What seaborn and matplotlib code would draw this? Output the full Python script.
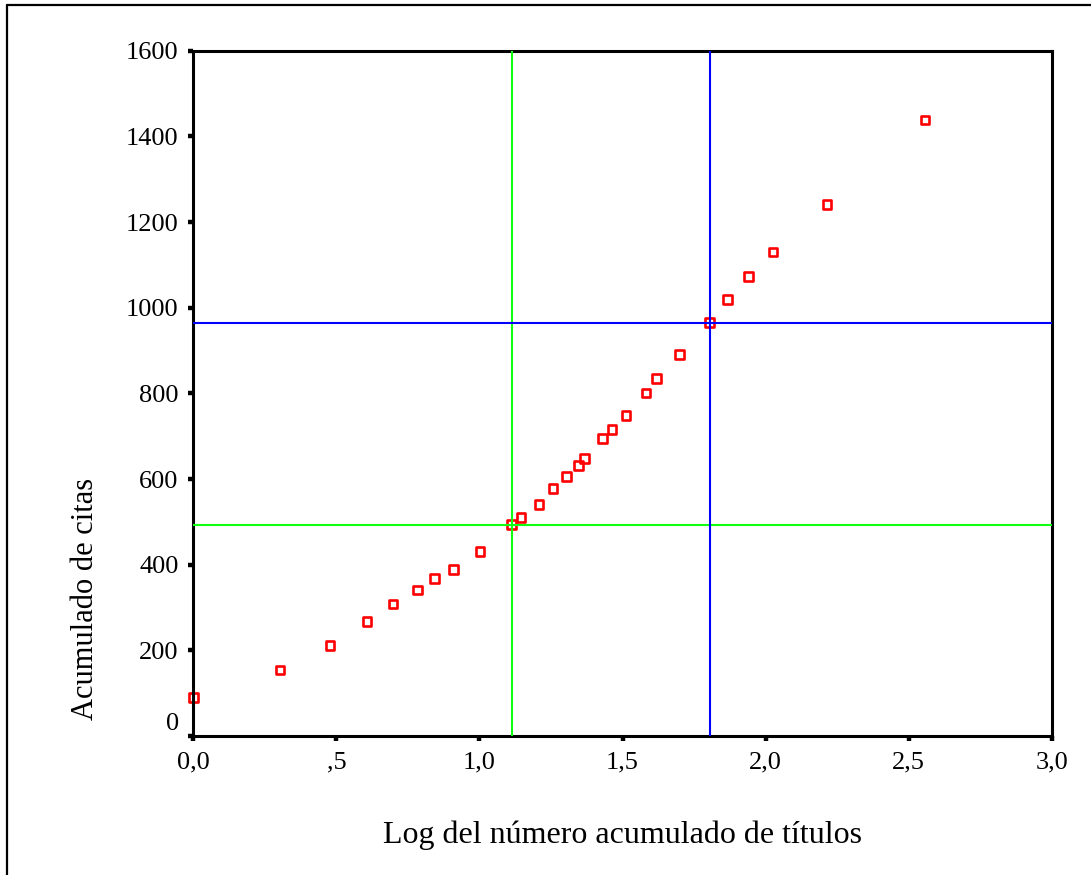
import matplotlib
matplotlib.use("Agg")
import matplotlib.pyplot as plt
import matplotlib.transforms as mtransforms
from matplotlib.lines import Line2D
from matplotlib.ticker import FixedLocator, FixedFormatter
import pandas as pd
import seaborn as sns

# Log of cumulative number of titles vs. cumulative citations
log_titulos = [0.000, 0.303, 0.478, 0.607, 0.698, 0.783, 0.842, 0.910, 1.002,
               1.113, 1.145, 1.208, 1.257, 1.303, 1.345, 1.368, 1.431, 1.463,
               1.512, 1.582, 1.620, 1.700, 1.805, 1.867, 1.939, 2.026, 2.215,
               2.557]
citas = [90, 154, 212, 267, 308, 341, 367, 388, 430,
         493, 510, 541, 578, 605, 632, 647, 694, 716,
         748, 801, 835, 891, 965, 1019, 1072, 1130, 1241,
         1438]

# Reference cut-offs (zone limits)
corte_verde = (1.113, 493)
corte_azul = (1.805, 965)

x_ticks = [0.0, 0.5, 1.0, 1.5, 2.0, 2.5, 3.0]
x_tick_labels = ["0,0", ",5", "1,0", "1,5", "2,0", "2,5", "3,0"]
y_ticks = [0, 200, 400, 600, 800, 1000, 1200, 1400, 1600]
y_tick_labels = ["0", "200", "400", "600", "800", "1000", "1200", "1400", "1600"]

df = pd.DataFrame({"log_titulos": log_titulos, "citas": citas})

sns.set_theme(style="white")
plt.rcParams["font.family"] = ["Liberation Serif", "DejaVu Serif"]

fig = plt.figure(figsize=(10.91, 8.75), dpi=100)
ax = fig.add_axes([193.3 / 1091, 1 - 736 / 875, 858.4 / 1091, 685.3 / 875])

sns.scatterplot(data=df, x="log_titulos", y="citas", ax=ax, marker="s",
                s=40, facecolor="none", edgecolor="#ff0000", linewidth=1.9,
                zorder=2, clip_on=False)

ax.axvline(corte_verde[0], color="#11ff11", lw=1.5, zorder=3)
ax.axhline(corte_verde[1], color="#11ff11", lw=1.5, zorder=3)
ax.axvline(corte_azul[0], color="#0000ff", lw=1.5, zorder=3)
ax.axhline(corte_azul[1], color="#0000ff", lw=1.5, zorder=3)

ax.set_xlim(0, 3.0)
ax.set_ylim(0, 1600)
ax.xaxis.set_major_locator(FixedLocator(x_ticks))
ax.xaxis.set_major_formatter(FixedFormatter(x_tick_labels))
ax.yaxis.set_major_locator(FixedLocator(y_ticks))
ax.yaxis.set_major_formatter(FixedFormatter(y_tick_labels))

for side in ["left", "right", "top", "bottom"]:
    ax.spines[side].set_visible(True)
    ax.spines[side].set_color("black")
    ax.spines[side].set_linewidth(2.2)

ax.tick_params(axis="both", which="major", direction="out", length=3.5,
               width=3.2, color="black", labelsize=19, labelcolor="black",
               bottom=True, left=True, top=False, right=False)
ax.tick_params(axis="x", pad=7.5)
ax.tick_params(axis="y", pad=7)

# the zero label sits slightly above its tick
fig.canvas.draw()
for lbl in ax.get_yticklabels():
    if lbl.get_text() == "0":
        lbl.set_transform(lbl.get_transform() +
                          mtransforms.ScaledTranslation(0, 14.5 / 100, fig.dpi_scale_trans))

ax.set_xlabel("Log del número acumulado de títulos", fontsize=23, color="black")
ax.set_ylabel("Acumulado de citas", fontsize=22, color="black")
ax.xaxis.set_label_coords(0.4995, -0.123)
ax.yaxis.set_label_coords(-0.109, 0.2)

# outer frame edges
fig.add_artist(Line2D([7 / 1091, 1.0], [1 - 5 / 875, 1 - 5 / 875],
                      transform=fig.transFigure, color="black", lw=1.6))
fig.add_artist(Line2D([7 / 1091, 7 / 1091], [0.0, 1 - 5 / 875],
                      transform=fig.transFigure, color="black", lw=1.6))

fig.savefig("out.png", dpi=100, facecolor="white")
